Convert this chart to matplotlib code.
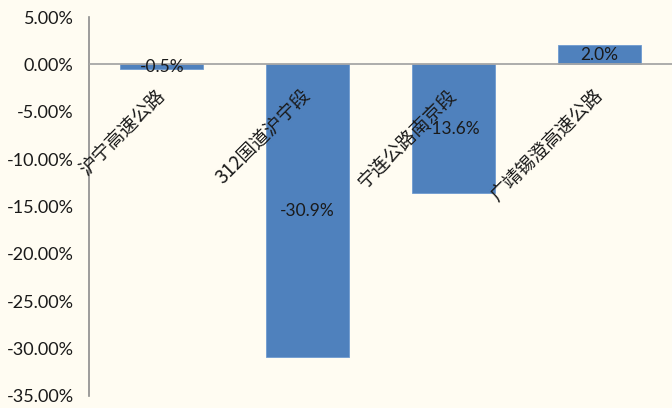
import matplotlib
matplotlib.use("Agg")
import matplotlib.pyplot as plt
from matplotlib.ticker import FuncFormatter

# road sections and their change rates (%)
roads = ["沪宁高速公路", "312国道沪宁段", "宁连公路南京段", "广靖锡澄高速公路"]
changes = [-0.5, -30.9, -13.6, 2.0]
yticks = [5, 0, -5, -10, -15, -20, -25, -30, -35]

bg = "#FFFCF2"
bar_color = "#4F81BD"

plt.rcParams['font.family'] = ['Lato', 'Noto Sans CJK SC', 'DejaVu Sans']

fig = plt.figure(figsize=(6.72, 4.08), dpi=100, facecolor=bg)
ax = fig.add_axes([89 / 672, 1 - 396 / 408, 1 - 89 / 672, (396 - 17) / 408])
ax.set_facecolor(bg)

x = list(range(len(roads)))
ax.bar(x, changes, width=0.57, color=bar_color, edgecolor="#6F9BD0", linewidth=0.6, zorder=2)

ax.set_xlim(-0.5, len(roads) - 0.5)
ax.set_ylim(-35, 5)
ax.set_yticks(yticks)
ax.yaxis.set_major_formatter(FuncFormatter(lambda v, p: "%.2f%%" % v))
ax.tick_params(axis="y", length=0, pad=11, labelsize=13, labelcolor="#1a1a1a")
ax.set_xticks([])

for side in ["top", "right", "bottom"]:
    ax.spines[side].set_visible(False)
ax.spines["left"].set_color("#8c8c8c")
ax.spines["left"].set_linewidth(1.2)
ax.axhline(0, color="#a6a6a6", linewidth=1.3, zorder=3)

# value labels sit in the middle of each bar
for i, v in enumerate(changes):
    ax.text(i, v / 2, "%.1f%%" % v, ha="center", va="center", fontsize=12.5,
            color="#1a1a1a", zorder=4)

# category names, slanted, ending just under the zero line
for i, name in enumerate(roads):
    ax.text(i, -2.95, name, rotation=45, rotation_mode="anchor",
            ha="right", va="center", fontsize=13.5, color="#1a1a1a",
            family=['Noto Sans CJK SC', 'DejaVu Sans'], zorder=5)

fig.savefig("out.png", dpi=100, facecolor=bg)
